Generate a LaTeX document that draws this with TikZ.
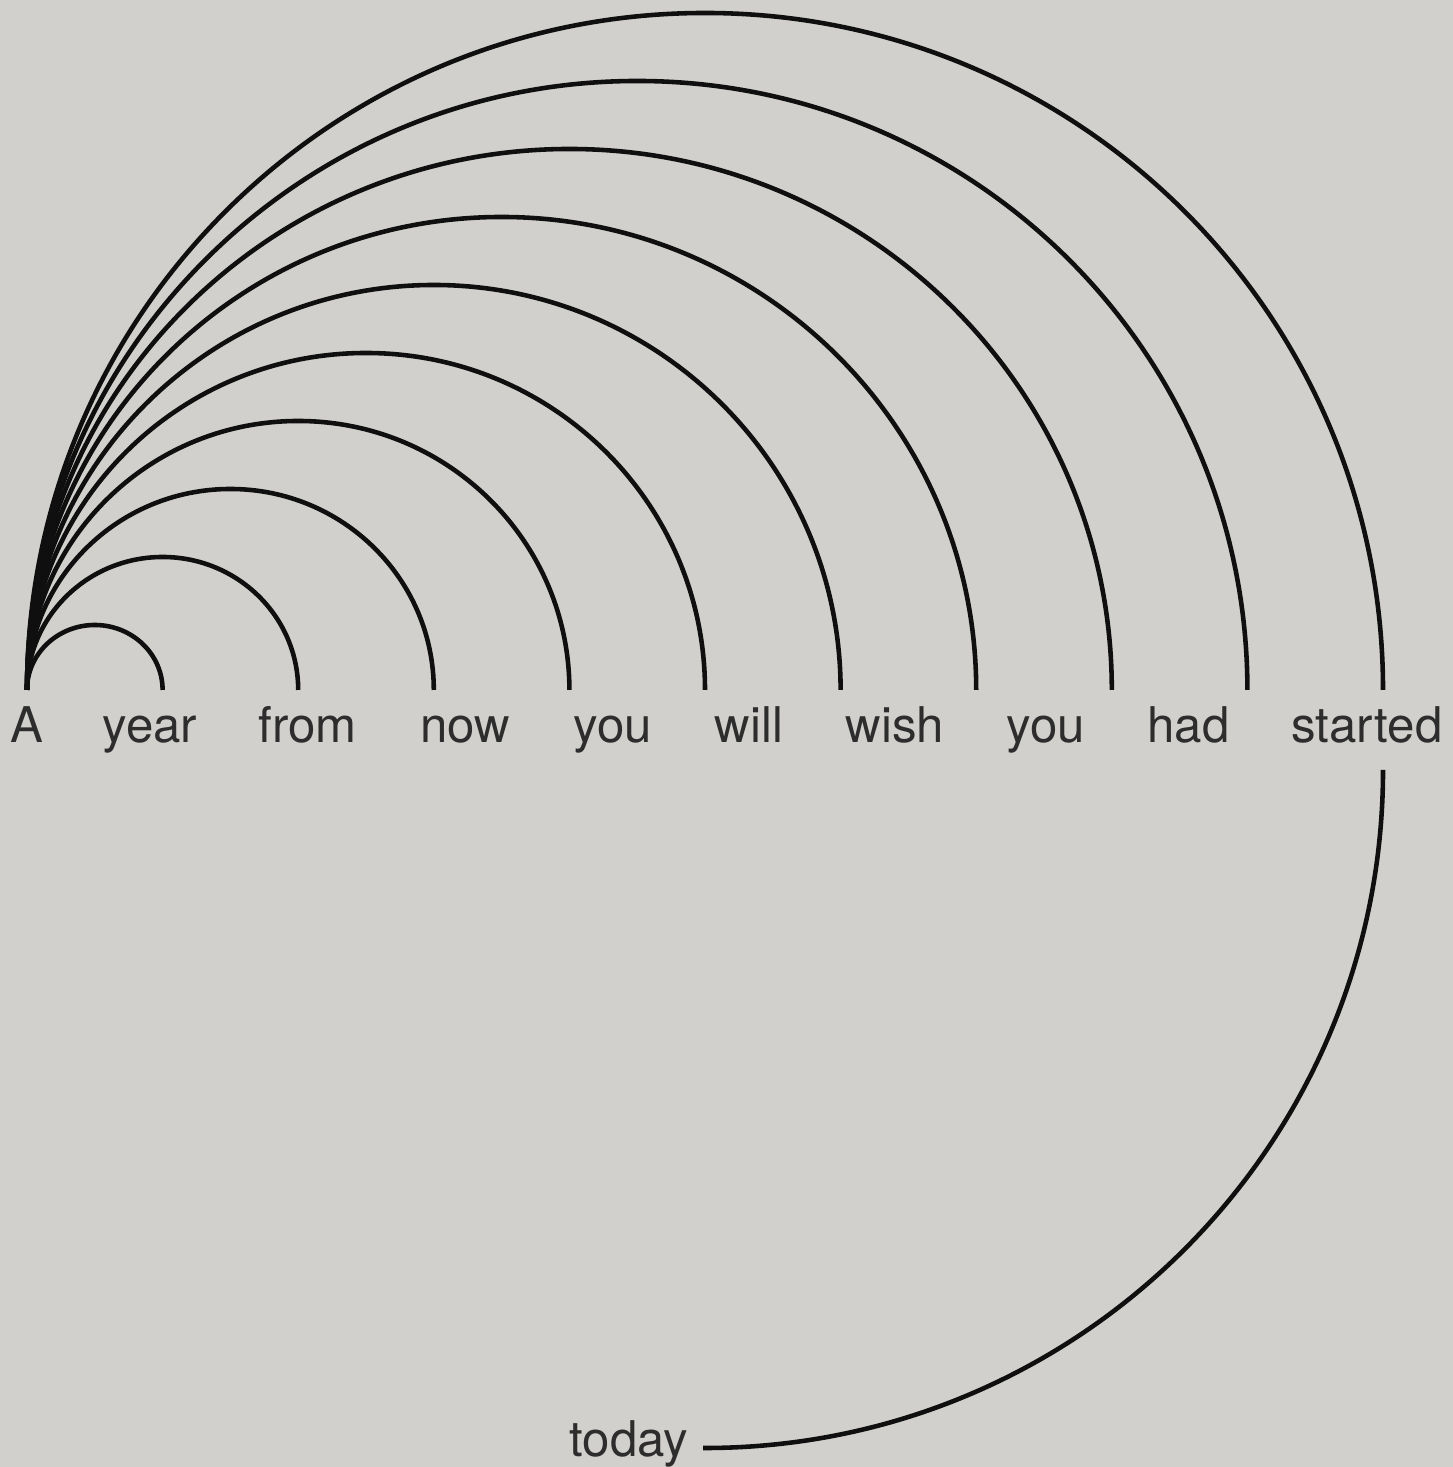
\documentclass[tikz,border=0pt]{standalone}
\usepackage{fontspec}
\setmainfont{TeX Gyre Heros}
\usepackage{tikz}
\usetikzlibrary{positioning}
\definecolor{paper}{RGB}{209,208,204}
\definecolor{inkblack}{RGB}{15,15,15}
\definecolor{textgray}{RGB}{45,45,45}

\begin{document}
\begin{tikzpicture}[
  word/.style={anchor=base, inner sep=0pt, text=textgray, font=\fontsize{14}{16}\selectfont},
  link/.style={draw=inkblack, line width=1.3pt}
]
  \fill[paper] (0,0) rectangle (14.53,14.67);
  \useasboundingbox (0,0) rectangle (14.53,14.67);

  % arc ends above the words
  \coordinate (e0) at (0.27,7.77);
  \coordinate (down) at (13.83,6.97);

  \node[word] (wA) at (0.27,7.24) {A};
  \node[word] (wyear) at (1.50,7.24) {year};
  \node[word] (wfrom) at (3.075,7.24) {from};
  \node[word] (wnow) at (4.65,7.24) {now};
  \node[word] (wyou) at (6.13,7.24) {you};
  \node[word] (wwill) at (7.49,7.24) {will};
  \node[word] (wwish) at (8.95,7.24) {wish};
  \node[word] (wyoutoo) at (10.455,7.24) {you};
  \node[word] (whad) at (11.885,7.24) {had};
  \node[word] (wstarted) at (13.67,7.24) {started};
  \node[word, anchor=base east] (wtoday) at (6.89,0.11) {today};

  \draw[link] (e0) arc[start angle=180, end angle=0, x radius=0.678, y radius=0.65];
  \draw[link] (e0) arc[start angle=180, end angle=0, x radius=1.356, y radius=1.33];
  \draw[link] (e0) arc[start angle=180, end angle=0, x radius=2.034, y radius=2.01];
  \draw[link] (e0) arc[start angle=180, end angle=0, x radius=2.712, y radius=2.69];
  \draw[link] (e0) arc[start angle=180, end angle=0, x radius=3.39, y radius=3.37];
  \draw[link] (e0) arc[start angle=180, end angle=0, x radius=4.068, y radius=4.05];
  \draw[link] (e0) arc[start angle=180, end angle=0, x radius=4.746, y radius=4.73];
  \draw[link] (e0) arc[start angle=180, end angle=0, x radius=5.424, y radius=5.41];
  \draw[link] (e0) arc[start angle=180, end angle=0, x radius=6.102, y radius=6.09];
  \draw[link] (e0) arc[start angle=180, end angle=0, x radius=6.78, y radius=6.77];

  \draw[link] (down) arc[start angle=0, end angle=-90, radius=6.78] -- ([xshift=4pt]wtoday.east |- 7.05,0.19);
\end{tikzpicture}
\end{document}
